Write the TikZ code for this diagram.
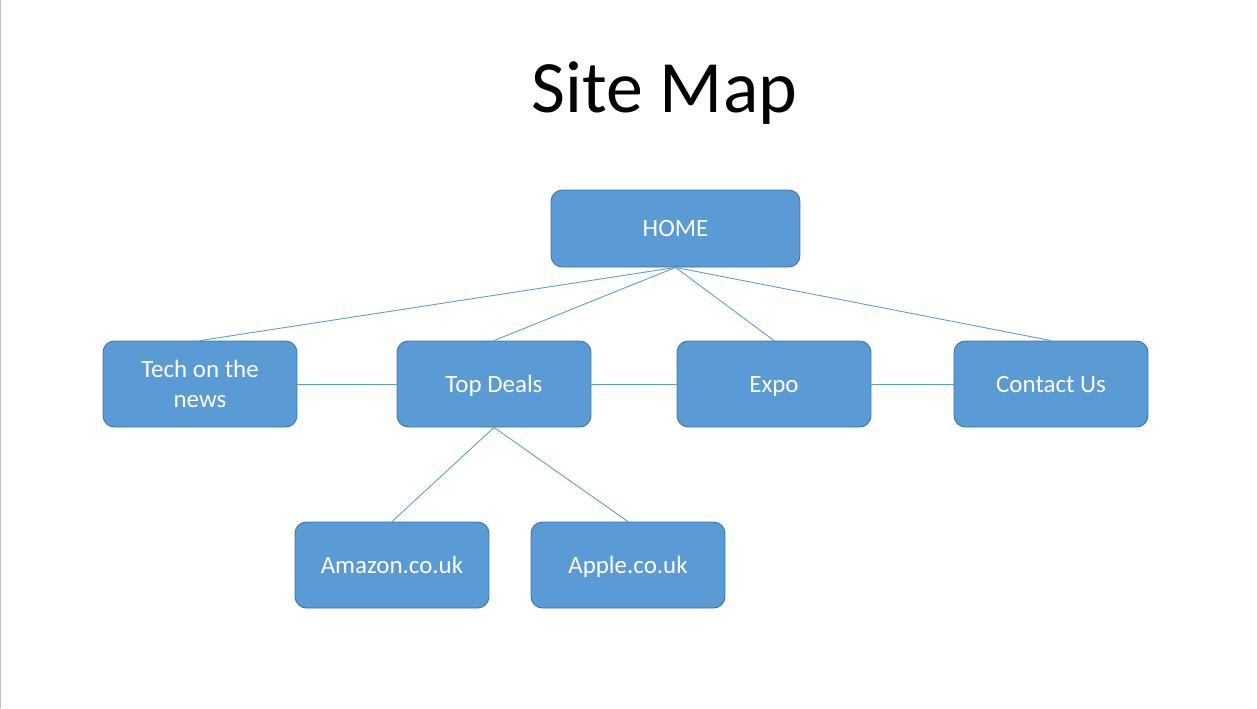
\documentclass[tikz,border=0pt]{standalone}
\usepackage{fontspec}
\setmainfont{Carlito}
\usetikzlibrary{positioning}
\definecolor{boxfill}{HTML}{5B9BD5}
\definecolor{boxline}{HTML}{41719C}
\tikzset{
box/.style={draw=boxline, fill=boxfill, rounded corners=6.5pt, line width=0.5pt,
minimum width=3.88cm, minimum height=1.72cm, text=white, align=center,
font=\fontsize{14.2}{17}\selectfont, inner sep=0pt, text height=9.1pt, text depth=0pt},
link/.style={draw=boxfill, line width=0.5pt}
}
\begin{document}
\begin{tikzpicture}[x=0.02cm, y=-0.02cm]
\useasboundingbox (0,0) rectangle (1257,708);
\draw[black!25, line width=1pt] (0.5,0) -- (0.5,708);
\node[font=\fontsize{42}{48}\selectfont, anchor=base] (title) at (664.5,112) {Site Map};
% top level
\node[box, minimum width=4.98cm, minimum height=1.54cm] (home) at (675.5,228.5) {HOME};
% second level
\node[box, text height=, text depth=] (tech) at (200,384) {Tech on the\\news};
\node[box] (deals) at (494,384) {Top Deals};
\node[box] (expo) at (774,384) {Expo};
\node[box] (contact) at (1051,384) {Contact Us};
% third level
\node[box] (amazon) at (392,565) {Amazon.co.uk};
\node[box] (apple) at (628,565) {Apple.co.uk};
\path[link]
(home.south) edge (tech.north)
(home.south) edge (deals.north)
(home.south) edge (expo.north)
(home.south) edge (contact.north)
(tech) edge (deals)
(deals) edge (expo)
(expo) edge (contact)
(deals.south) edge (amazon.north)
(deals.south) edge (apple.north);
\end{tikzpicture}
\end{document}
